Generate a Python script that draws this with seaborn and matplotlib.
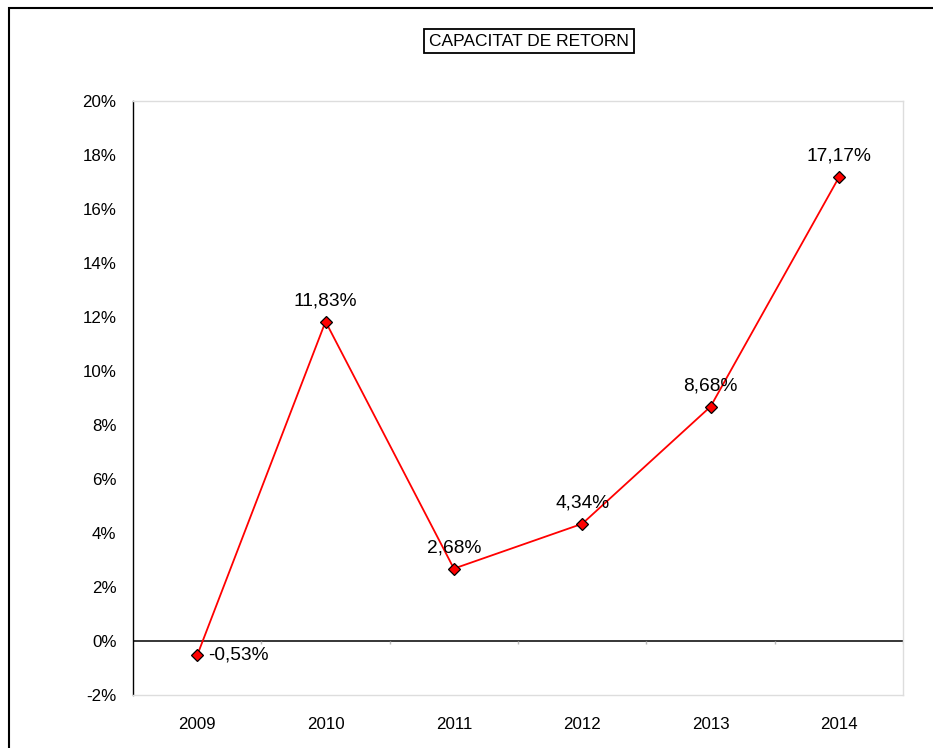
import matplotlib
matplotlib.use("Agg")
import matplotlib.pyplot as plt
import seaborn as sns
import pandas as pd
from matplotlib.patches import Rectangle

years = ["2009", "2010", "2011", "2012", "2013", "2014"]
values = [-0.53, 11.83, 2.68, 4.34, 8.68, 17.17]
y_ticks = [-2, 0, 2, 4, 6, 8, 10, 12, 14, 16, 18, 20]
title = "CAPACITAT DE RETORN"

sns.set_style("white")
plt.rcParams["font.family"] = ["Liberation Sans", "DejaVu Sans"]
plt.rcParams["text.color"] = "black"
plt.rcParams["xtick.color"] = "black"
plt.rcParams["ytick.color"] = "black"

df = pd.DataFrame({"year": years, "value": values})

fig = plt.figure(figsize=(9.33, 7.48), dpi=100)
ax = fig.add_axes([0.1426, 0.0709, 0.8253, 0.7941])

sns.lineplot(data=df, x="year", y="value", ax=ax, color="red", linewidth=1.3,
             marker="D", markersize=6.5, markerfacecolor="red",
             markeredgecolor="black", markeredgewidth=0.9, sort=False)

ax.set_xlim(-0.5, len(years) - 0.5)
ax.set_ylim(-2, 20)
ax.set_yticks(y_ticks)
ax.set_yticklabels([f"{t}%" for t in y_ticks])
ax.tick_params(axis="y", length=0, pad=12, labelsize=12.2)
ax.tick_params(axis="x", length=0, pad=16, labelsize=12.2)
ax.set_xlabel("")
ax.set_ylabel("")

for side in ["top", "right", "bottom"]:
    ax.spines[side].set_color("#dddddd")
    ax.spines[side].set_linewidth(1)
ax.spines["left"].set_color("black")
ax.spines["left"].set_linewidth(1)

# category axis crossing at zero
ax.axhline(0, color="black", linewidth=1.1, zorder=1)
ax.vlines([i + 0.5 for i in range(len(years))], -0.12, 0, color="#bbbbbb", linewidth=1)

for i, v in enumerate(values):
    lab = f"{v:.2f}%".replace(".", ",")
    if v < 0:
        ax.annotate(lab, (i, v), xytext=(8, 0), textcoords="offset points",
                    ha="left", va="center", fontsize=13.8)
    else:
        ax.annotate(lab, (i, v), xytext=(0, 9), textcoords="offset points",
                    ha="center", va="bottom", fontsize=13.8)

fig.text(529 / 933, 1 - 41 / 748, title, ha="center", va="center", fontsize=12.5,
         bbox=dict(boxstyle="square,pad=0.28", facecolor="white",
                   edgecolor="black", linewidth=1.3))

# outer chart border
fig.patches.append(Rectangle((9 / 933, -0.1), 1.2, 1.1 - 8 / 748,
                             transform=fig.transFigure, fill=False,
                             edgecolor="black", linewidth=1.5))

fig.savefig("out.png", dpi=100)
